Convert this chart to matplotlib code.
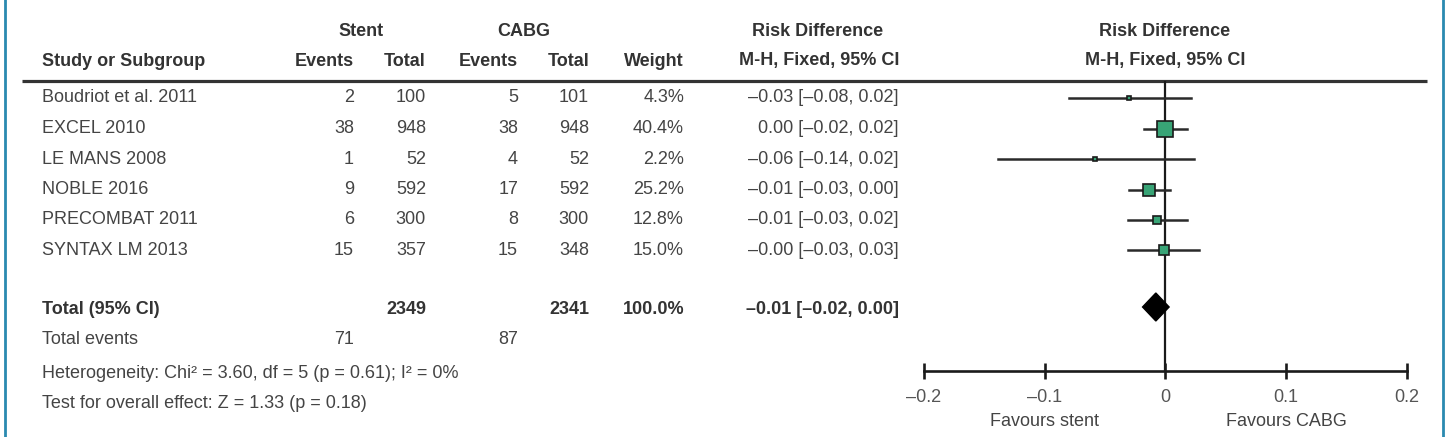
import matplotlib
matplotlib.use("Agg")
import matplotlib.pyplot as plt
import matplotlib.transforms as mtransforms
import numpy as np

plt.rcParams['font.family'] = ['Liberation Sans', 'DejaVu Sans']

# ---------------- data ----------------
studies = ["Boudriot et al. 2011", "EXCEL 2010", "LE MANS 2008",
           "NOBLE 2016", "PRECOMBAT 2011", "SYNTAX LM 2013"]
stent_events = [2, 38, 1, 9, 6, 15]
stent_total = [100, 948, 52, 592, 300, 357]
cabg_events = [5, 38, 4, 17, 8, 15]
cabg_total = [101, 948, 52, 592, 300, 348]
weights = [4.3, 40.4, 2.2, 25.2, 12.8, 15.0]
rd_text = ["\u20130.03 [\u20130.08, 0.02]", "0.00 [\u20130.02, 0.02]",
           "\u20130.06 [\u20130.14, 0.02]", "\u20130.01 [\u20130.03, 0.00]",
           "\u20130.01 [\u20130.03, 0.02]", "\u20130.00 [\u20130.03, 0.03]"]
rd_point = [-0.030, 0.000, -0.058, -0.014, -0.007, -0.001]
ci_low = [-0.080, -0.018, -0.139, -0.030, -0.031, -0.031]
ci_high = [0.021, 0.018, 0.024, 0.004, 0.018, 0.028]

total_stent = 2349
total_cabg = 2341
total_weight = "100.0%"
total_rd_text = "\u20130.01 [\u20130.02, 0.00]"
total_point = -0.008
total_low = -0.019
total_high = 0.003
events_stent = 71
events_cabg = 87
heterogeneity = "Heterogeneity: Chi\u00b2 = 3.60, df = 5 (p = 0.61); I\u00b2 = 0%"
overall = "Test for overall effect: Z = 1.33 (p = 0.18)"
xticks = [-0.2, -0.1, 0, 0.1, 0.2]
xtick_labels = ["\u20130.2", "\u20130.1", "0", "0.1", "0.2"]

# ---------------- layout ----------------
W, H = 1446, 437
fig = plt.figure(figsize=(W / 100, H / 100), dpi=100)
fig.patch.set_facecolor("white")

ax = fig.add_axes([0, 0, 1, 1])
ax.set_xlim(0, W)
ax.set_ylim(H, 0)
ax.axis("off")

FS = 13
TXT = "#444444"
HDR = "#333333"

row_y0, row_dy = 98, 30.5
row_ys = [row_y0 + row_dy * i for i in range(len(studies))]
y_total, y_events, y_het, y_test = 309, 339, 373, 404

# columns (right edges)
c_study = 42
c_se, c_st, c_ce, c_ct, c_w, c_rd = 354, 426, 518, 589, 684, 899

# headers
hy1, hy2 = 32, 61
ax.text(361, hy1, "Stent", ha="center", va="center", fontsize=FS, fontweight="bold", color=HDR)
ax.text(524, hy1, "CABG", ha="center", va="center", fontsize=FS, fontweight="bold", color=HDR)
ax.text(818, hy1, "Risk Difference", ha="center", va="center", fontsize=FS, fontweight="bold", color=HDR)
ax.text(1165, hy1, "Risk Difference", ha="center", va="center", fontsize=FS, fontweight="bold", color=HDR)
ax.text(c_study, hy2, "Study or Subgroup", ha="left", va="center", fontsize=FS, fontweight="bold", color=HDR)
for xr, lab in [(c_se, "Events"), (c_st, "Total"), (c_ce, "Events"), (c_ct, "Total"),
                (c_w, "Weight"), (c_rd, "M-H, Fixed, 95% CI")]:
    ax.text(xr, hy2, lab, ha="right", va="center", fontsize=FS, fontweight="bold", color=HDR)
ax.text(1165, hy2, "M-H, Fixed, 95% CI", ha="center", va="center", fontsize=FS, fontweight="bold", color=HDR)

ax.plot([22, 1427], [81, 81], color="#333333", lw=2.3, solid_capstyle="butt")

# rows
for i, y in enumerate(row_ys):
    ax.text(c_study, y, studies[i], ha="left", va="center", fontsize=FS, color=TXT)
    ax.text(c_se, y, str(stent_events[i]), ha="right", va="center", fontsize=FS, color=TXT)
    ax.text(c_st, y, str(stent_total[i]), ha="right", va="center", fontsize=FS, color=TXT)
    ax.text(c_ce, y, str(cabg_events[i]), ha="right", va="center", fontsize=FS, color=TXT)
    ax.text(c_ct, y, str(cabg_total[i]), ha="right", va="center", fontsize=FS, color=TXT)
    ax.text(c_w, y, f"{weights[i]:.1f}%", ha="right", va="center", fontsize=FS, color=TXT)
    ax.text(c_rd, y, rd_text[i], ha="right", va="center", fontsize=FS, color=TXT)

ax.text(c_study, y_total, "Total (95% CI)", ha="left", va="center", fontsize=FS, fontweight="bold", color=HDR)
ax.text(c_st, y_total, str(total_stent), ha="right", va="center", fontsize=FS, fontweight="bold", color=HDR)
ax.text(c_ct, y_total, str(total_cabg), ha="right", va="center", fontsize=FS, fontweight="bold", color=HDR)
ax.text(c_w, y_total, total_weight, ha="right", va="center", fontsize=FS, fontweight="bold", color=HDR)
ax.text(c_rd, y_total, total_rd_text, ha="right", va="center", fontsize=FS, fontweight="bold", color=HDR)

ax.text(c_study, y_events, "Total events", ha="left", va="center", fontsize=FS, color=TXT)
ax.text(c_se, y_events, str(events_stent), ha="right", va="center", fontsize=FS, color=TXT)
ax.text(c_ce, y_events, str(events_cabg), ha="right", va="center", fontsize=FS, color=TXT)
ax.text(c_study, y_het, heterogeneity, ha="left", va="center", fontsize=FS, color=TXT)
ax.text(c_study, y_test, overall, ha="left", va="center", fontsize=FS, color=TXT)

# side borders
ax.plot([5, 5], [0, H], color="#2a8ab0", lw=2.0)
ax.plot([1443, 1443], [0, H], color="#2a8ab0", lw=2.0)

# ---------------- forest axes ----------------
x_left_px, x_right_px = 924, 1407
y_top_px, y_axis_px = 81, 371
ax2 = fig.add_axes([x_left_px / W, (H - y_axis_px) / H,
                    (x_right_px - x_left_px) / W, (y_axis_px - y_top_px) / H])
ax2.patch.set_alpha(0)
ax2.set_xlim(-0.2, 0.2)
r_top = (y_top_px - row_y0) / row_dy
r_bot = (y_axis_px - row_y0) / row_dy
ax2.set_ylim(r_bot, r_top)
for s in ["top", "left", "right"]:
    ax2.spines[s].set_visible(False)
ax2.spines["bottom"].set_linewidth(1.9)
ax2.spines["bottom"].set_color("#1a1a1a")
ax2.set_yticks([])
ax2.set_xticks(xticks)
ax2.set_xticklabels(xtick_labels)
ax2.tick_params(axis="x", direction="inout", length=12, width=1.9, color="#1a1a1a",
                labelsize=FS, labelcolor="#555555", pad=7)

ax2.axvline(0, color="#1a1a1a", lw=1.6, zorder=1)

rows = np.arange(len(studies))
for i in rows:
    ax2.plot([ci_low[i], ci_high[i]], [i, i], color="#2a2a2a", lw=1.8, zorder=2)
    side = 2.6 * np.sqrt(weights[i]) * 0.72
    ax2.plot(rd_point[i], i, marker="s", markersize=max(side - 0.4, 3.0),
             markerfacecolor="#38a476", markeredgecolor="#1a1a1a", markeredgewidth=1.2,
             zorder=3)

r_total = (y_total - 2 - row_y0) / row_dy
hh = 14 / row_dy
ax2.fill([total_low, total_point, total_high, total_point],
         [r_total, r_total - hh, r_total, r_total + hh], color="black", zorder=3)

blend = mtransforms.blended_transform_factory(ax2.transData, ax.transData)
ax.text(-0.1, 421, "Favours stent", transform=blend, ha="center", va="center",
        fontsize=FS, color=TXT)
ax.text(0.1, 421, "Favours CABG", transform=blend, ha="center", va="center",
        fontsize=FS, color=TXT)

fig.savefig("out.png", dpi=100, facecolor="white")
